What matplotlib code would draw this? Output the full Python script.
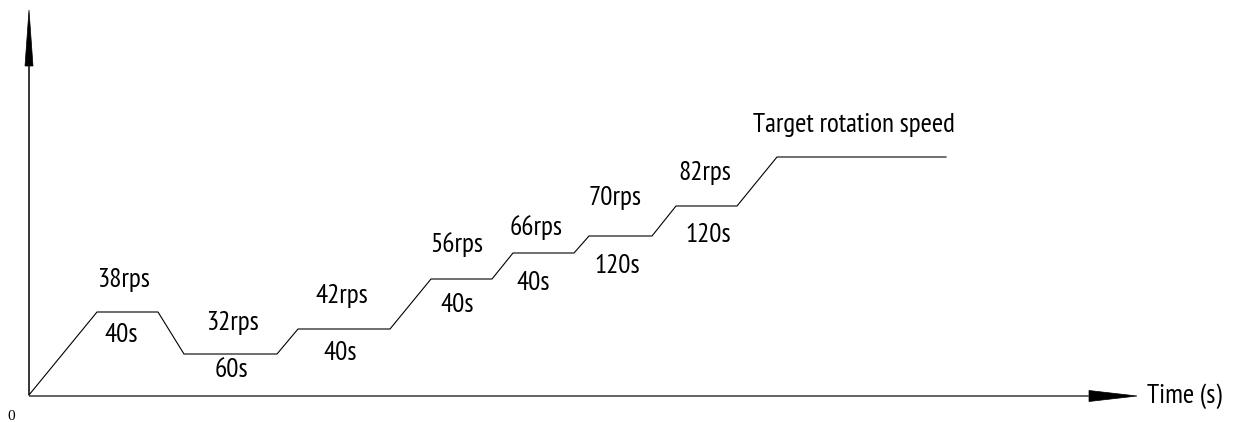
import matplotlib
matplotlib.use("Agg")
import matplotlib.pyplot as plt
from matplotlib.patches import Polygon

# Speed profile breakpoints (schematic units: time along x, speed level up)
t_pts = [0, 68, 129, 155, 248, 269, 361, 402, 463, 484, 545, 560, 623, 647, 708, 748, 917]
lvl_pts = [0, 83, 83, 41, 41, 66, 66, 116, 116, 142, 142, 159, 159, 189, 189, 238, 238]

speed_labels = ["38rps", "32rps", "42rps", "56rps", "66rps", "70rps", "82rps", "Target rotation speed"]
hold_labels = ["40s", "60s", "40s", "40s", "40s", "120s", "120s"]

# label placement relative to plateau midpoints (dx, baseline dy)
speed_off = [(-4, 25), (2, 24), (-2, 26), (-5, 27), (-7, 18), (-6, 31), (-2, 26), (-8, 25)]
hold_off = [(-6, -30), (1, -23), (-4, -31), (-4, -33), (-10, -37), (-3, -37), (2, -36)]

fig = plt.figure(figsize=(12.4, 4.22), dpi=100)
ax = fig.add_axes([0, 0, 1, 1])
ax.set_xlim(-29, 1211)
ax.set_ylim(-27, 395)
ax.axis("off")

font = ["PT Sans Narrow", "DejaVu Sans"]
fs = 19.5

# axes with arrowheads
ax.plot([0, 1060], [-1, -1], color="#555555", lw=1.3, solid_capstyle="butt")
ax.plot([0, 0], [0, 329], color="black", lw=1.1, solid_capstyle="butt")
ax.add_patch(Polygon([[-4, 329], [4, 329], [0, 385]], closed=True, color="black", lw=0.5))
ax.add_patch(Polygon([[1060, 4.5], [1060, -6.5], [1108, -1]], closed=True, color="black", lw=0.5))

# profile
ax.plot(t_pts, lvl_pts, color="black", lw=0.8)

# plateau midpoints
plateaus = [(t_pts[i], t_pts[i + 1], lvl_pts[i]) for i in range(1, len(t_pts) - 1, 2)]
for (a, b, lv), lab, (dx, dy) in zip(plateaus, speed_labels, speed_off):
    ax.text((a + b) / 2 + dx, lv + dy, lab, ha="center", va="baseline",
            fontsize=fs, family=font)
for (a, b, lv), lab, (dx, dy) in zip(plateaus, hold_labels, hold_off):
    ax.text((a + b) / 2 + dx, lv + dy, lab, ha="center", va="baseline",
            fontsize=fs, family=font)

ax.text(1118, -8, "Time (s)", ha="left", va="baseline", fontsize=fs, family=font)
ax.text(-18, -25, "0", ha="center", va="baseline", fontsize=11, family="Liberation Serif")

fig.savefig("out.png", dpi=100)
